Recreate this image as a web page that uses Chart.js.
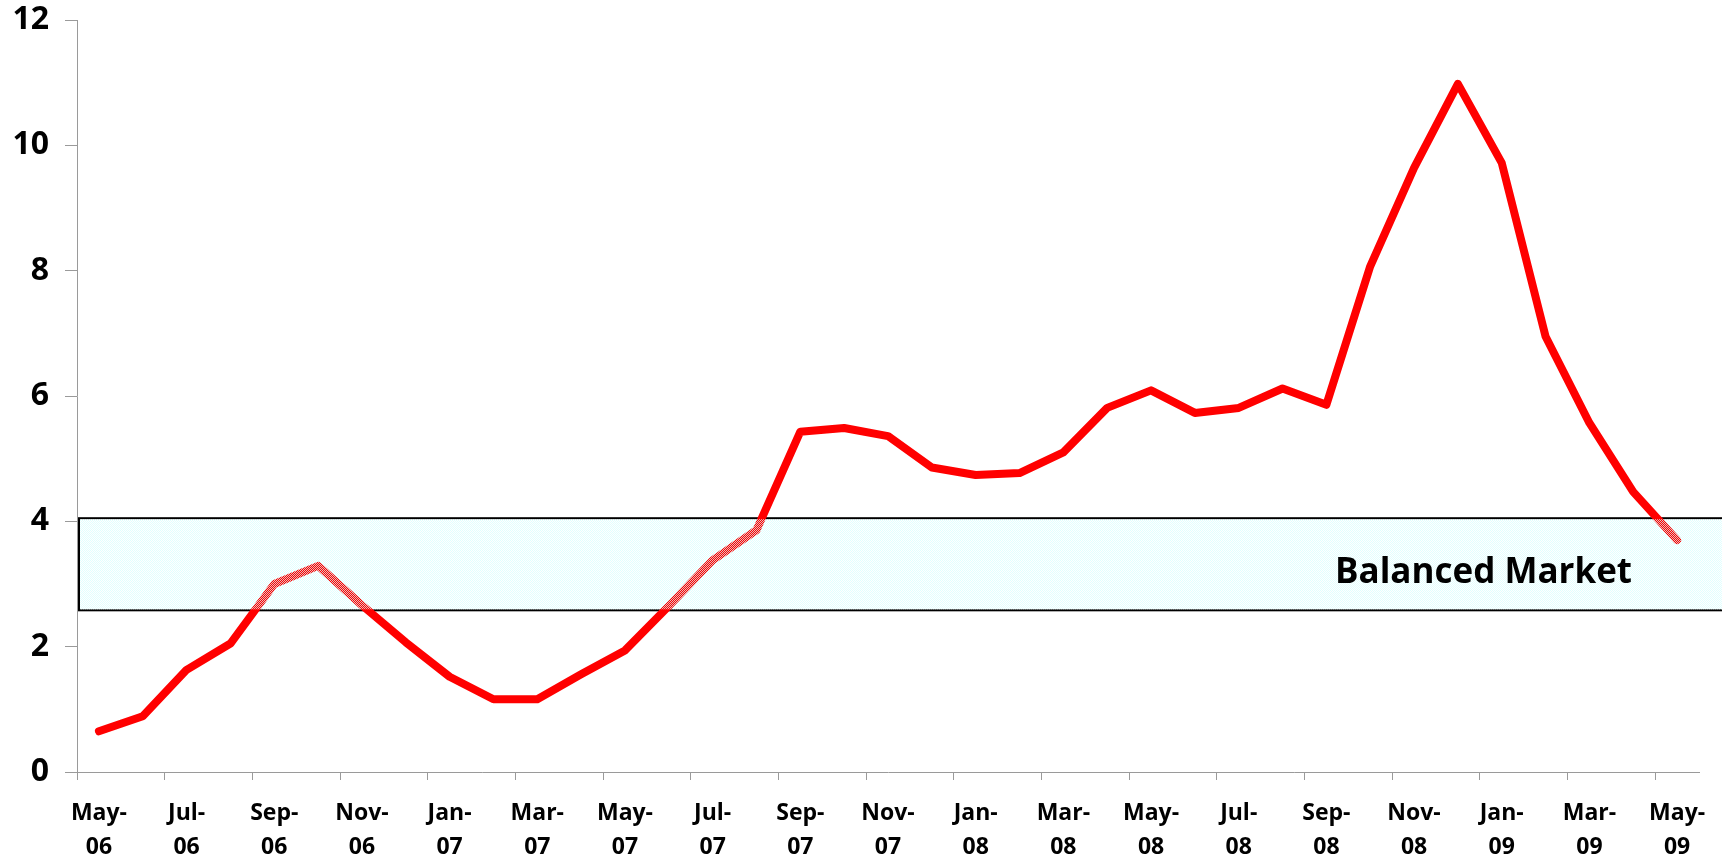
<!DOCTYPE html>
<html>
<head>
<meta charset="utf-8">
<script src="https://cdn.jsdelivr.net/npm/chart.js@4.4.1/dist/chart.umd.min.js"></script>
<style>
  html, body { margin: 0; padding: 0; background: #fff; }
  canvas { display: block; }
</style>
</head>
<body>
<canvas id="supplyChart" width="1722" height="862"></canvas>
<script>
const months = [
  "May-06", "Jun-06", "Jul-06", "Aug-06", "Sep-06", "Oct-06", "Nov-06", "Dec-06",
  "Jan-07", "Feb-07", "Mar-07", "Apr-07", "May-07", "Jun-07", "Jul-07", "Aug-07",
  "Sep-07", "Oct-07", "Nov-07", "Dec-07", "Jan-08", "Feb-08", "Mar-08", "Apr-08",
  "May-08", "Jun-08", "Jul-08", "Aug-08", "Sep-08", "Oct-08", "Nov-08", "Dec-08",
  "Jan-09", "Feb-09", "Mar-09", "Apr-09", "May-09"
];

const monthsSupply = [
  0.65, 0.89, 1.63, 2.05, 3.0, 3.29, 2.66, 2.07,
  1.52, 1.16, 1.16, 1.56, 1.94, 2.65, 3.38, 3.86,
  5.43, 5.49, 5.36, 4.86, 4.74, 4.77, 5.10, 5.81,
  6.09, 5.73, 5.81, 6.12, 5.86, 8.07, 9.64, 10.98,
  9.72, 6.95, 5.57, 4.47, 3.70
];

const yTicks = [0, 2, 4, 6, 8, 10, 12];

const bandLow = 2.58;
const bandHigh = 4.05;
const bandLabel = "Balanced Market";
const bandLabelAt = 3.02;

const axisColor = "#9a9a9a";
const fontFamily = "'Open Sans', Lato, sans-serif";

function makePattern() {
  const c = document.createElement("canvas");
  c.width = 2;
  c.height = 2;
  const g = c.getContext("2d");
  g.fillStyle = "rgba(215, 255, 255, 0.75)";
  g.fillRect(0, 0, 1, 1);
  g.fillRect(1, 1, 1, 1);
  return c;
}

const bandPlugin = {
  id: "band",
  beforeDatasetsDraw(chart) {
    const { ctx, chartArea, scales } = chart;
    const top = scales.y.getPixelForValue(bandHigh);
    const bottom = scales.y.getPixelForValue(bandLow);
    ctx.save();
    ctx.strokeStyle = "#000";
    ctx.lineWidth = 2;
    ctx.strokeRect(chartArea.left + 2, top, chart.width + 10, bottom - top);
    ctx.restore();
  },
  afterDatasetsDraw(chart) {
    const { ctx, chartArea, scales } = chart;
    const top = scales.y.getPixelForValue(bandHigh);
    const bottom = scales.y.getPixelForValue(bandLow);
    ctx.save();
    ctx.fillStyle = ctx.createPattern(makePattern(), "repeat");
    ctx.fillRect(chartArea.left + 3, top + 1, chart.width, bottom - top - 2);
    ctx.fillStyle = "#000";
    ctx.font = "bold 35px " + fontFamily;
    ctx.textAlign = "right";
    ctx.textBaseline = "alphabetic";
    ctx.fillText(bandLabel, chartArea.right - 67, scales.y.getPixelForValue(bandLabelAt));
    ctx.restore();
  },
};

const ctx = document.getElementById("supplyChart");
new Chart(ctx, {
  type: "line",
  data: {
    labels: months,
    datasets: [
      {
        label: "Months of supply",
        data: monthsSupply,
        borderColor: "#ff0000",
        backgroundColor: "#ff0000",
        borderWidth: 8,
        borderCapStyle: "round",
        borderJoinStyle: "round",
        pointRadius: 0,
        tension: 0,
        fill: false,
      },
    ],
  },
  options: {
    responsive: false,
    devicePixelRatio: 1,
    animation: false,
    layout: { padding: { top: 20, right: 23, left: 0, bottom: 0 } },
    plugins: {
      legend: { display: false },
      tooltip: { enabled: false },
    },
    scales: {
      x: {
        offset: true,
        grid: {
          offset: true,
          drawOnChartArea: false,
          drawTicks: true,
          tickLength: 8,
          color: (c) => (c.index % 2 === 0 ? axisColor : "rgba(0,0,0,0)"),
        },
        border: { display: true, color: axisColor, width: 1 },
        ticks: {
          autoSkip: false,
          maxRotation: 0,
          minRotation: 0,
          padding: 17,
          color: "#000",
          font: { family: fontFamily, size: 23, weight: "bold", lineHeight: 1.45 },
          callback: (v, i) => {
            if (i % 2 !== 0) return "";
            const parts = months[i].split("-");
            return [parts[0] + "-", parts[1]];
          },
        },
        afterFit: (s) => {
          s.height = 90;
          s.paddingLeft = 0;
          s.paddingRight = 0;
        },
      },
      y: {
        min: 0,
        max: 12,
        afterBuildTicks: (s) => {
          s.ticks = yTicks.map((v) => ({ value: v }));
        },
        grid: {
          drawOnChartArea: false,
          drawTicks: true,
          tickLength: 12,
          color: axisColor,
        },
        border: { display: true, color: axisColor, width: 1 },
        ticks: {
          padding: 16,
          color: "#000",
          font: { family: fontFamily, size: 32, weight: "bold" },
        },
        afterFit: (s) => {
          s.width = 77;
          s.paddingTop = 0;
          s.paddingBottom = 0;
        },
      },
    },
  },
  plugins: [bandPlugin],
});
</script>
</body>
</html>
